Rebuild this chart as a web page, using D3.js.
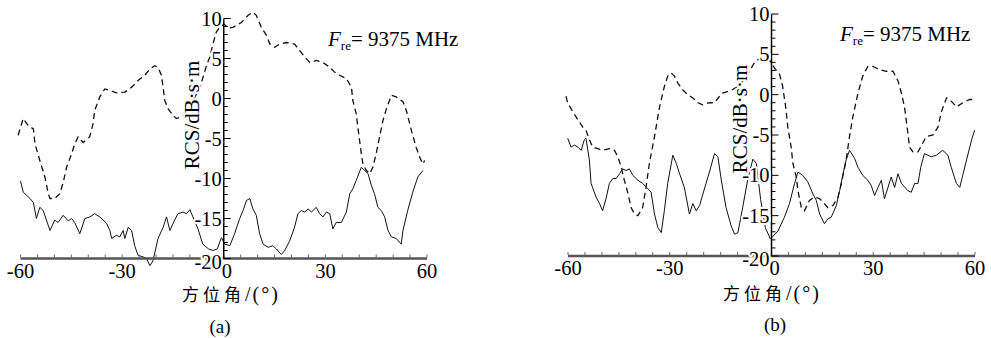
<!DOCTYPE html>
<html><head><meta charset="utf-8">
<script src="https://cdn.jsdelivr.net/npm/d3@7"></script>
<style>body{margin:0;background:#fff}svg{display:block}
.sf{font-family:"Liberation Serif","DejaVu Serif",serif}
.cj{font-family:"Noto Sans CJK SC","Noto Sans CJK JP",sans-serif}
</style>
</head><body><svg id="c" width="991" height="338"></svg>
<script>
// ---------------- data ----------------
const xTicks = [-60, -30, 0, 30, 60];
const yTicks = [10, 5, 0, -5, -10, -15, -20];
const xMinor = d3.range(-60, 61, 5);
const yMinor = d3.range(-20, 11, 1);
const xTitle = "方位角";
const xUnit = "/(°)";
const yTitle = "RCS/dB·s·m";
const freqText = "= 9375 MHz";
const panelLabels = ["(a)", "(b)"];

// panel (a): [azimuth deg, RCS dBsm]
const aSolid = [[-60,-10.3],[-59.2,-11.7],[-57.2,-12.5],[-56.2,-13],[-55.3,-15],[-54.3,-13.6],[-53.3,-14],[-51.3,-16.5],[-49.9,-15.2],[-48.9,-15.5],[-47.4,-14.6],[-45.9,-15.3],[-44.9,-15],[-44,-15.5],[-42.5,-16.9],[-41,-15],[-39.5,-14.8],[-38.1,-14.4],[-36.6,-14.8],[-34.6,-15.6],[-33.6,-16.5],[-33.1,-17.5],[-31.7,-17.1],[-30.7,-17.3],[-29.7,-16.5],[-29.2,-17.5],[-28.2,-16.1],[-27.2,-16.5],[-26.3,-18.4],[-25.3,-19.6],[-23.8,-19.8],[-22.8,-20],[-21.8,-20.9],[-20.9,-20.3],[-19.4,-17.5],[-17.9,-16.1],[-16.9,-14.8],[-15.9,-16.5],[-14.5,-15.2],[-13.5,-14.4],[-12,-14.2],[-11,-14.4],[-10,-13.9],[-9.1,-14.8],[-7.6,-16.3],[-6.2,-18.2],[-4.5,-18.8],[-3.2,-19],[-1.9,-18.8],[-0.7,-17.4],[0.3,-18.2],[1.8,-18.4],[3.2,-16.9],[4.7,-15],[5.7,-14],[6.7,-12.75],[7.7,-12.5],[8.6,-13.8],[9.6,-14.6],[10.6,-16.9],[11.6,-18.2],[13.1,-18.6],[14.5,-18.4],[15.5,-18.8],[17,-19.5],[18,-19],[19.5,-17.75],[20.9,-16.1],[21.9,-14.4],[22.9,-14],[23.9,-14.2],[24.9,-13.8],[25.9,-14.2],[27.3,-13.6],[28.3,-14.4],[29.3,-14.8],[30.3,-14.2],[31.3,-14.4],[32.2,-16.3],[33.2,-15.5],[34.7,-15.5],[36.2,-14.2],[37.2,-11.9],[38.1,-11.3],[39.1,-10.25],[40.6,-8.6],[41.6,-9],[42.6,-9.4],[43.6,-10.9],[44.5,-11.9],[45.5,-13.6],[46.5,-14],[47.5,-14.8],[48.5,-16.5],[49.5,-17.3],[50.9,-17.5],[52.4,-18.2],[52.9,-16.5],[54.3,-14],[55.8,-11.7],[57.3,-9.8],[58.8,-9]];
const aDashed = [[-60.7,-4.6],[-59.2,-2.5],[-57.7,-3.4],[-56.2,-3.8],[-55.7,-5.7],[-54.3,-7.75],[-52.8,-9.8],[-51.8,-11.9],[-51.3,-12.5],[-49.9,-12.5],[-48.4,-11.9],[-47.4,-10.5],[-46.4,-8.6],[-44.9,-6.9],[-44,-5.7],[-43,-4.8],[-41.5,-5.5],[-39.6,-4.8],[-38.6,-3.2],[-38.1,-1.5],[-36.6,0.2],[-35.1,1.2],[-33.6,1],[-31.7,0.7],[-29.2,0.8],[-27.2,1.4],[-25.3,2.25],[-23.3,2.9],[-21.8,3.7],[-20.4,4.1],[-19.4,3.9],[-18.4,2.9],[-17.9,1.4],[-17.4,-0.25],[-16.4,-1.3],[-15,-2.1],[-14,-2.5],[-12,-2.2],[-10,-1],[-8,0.6],[-7.1,1.2],[-6.1,2.7],[-5.1,4.1],[-4.1,5.2],[-3.2,6.8],[-2.2,8.3],[-1.2,8.9],[0,9.3],[1.5,8.8],[2.7,8.9],[5.2,9.5],[7.2,10.4],[8.6,10.8],[9.6,10.4],[11.1,8.9],[12.6,7.9],[13.6,6.8],[15,6.4],[16.5,6.8],[18.5,7],[20.9,6.8],[22.4,6],[23.9,5.2],[25.4,4.5],[27.3,4.75],[29.3,4.5],[31.3,3.9],[32.7,3.3],[34.2,2.9],[36.2,2.5],[37.7,1.4],[38.1,-0.25],[39.1,-1.9],[39.6,-3.6],[40.1,-5.25],[40.6,-6.9],[41.1,-8.2],[42.1,-9],[43.1,-9.4],[44,-8.6],[45,-6.9],[46,-4.8],[47,-2.75],[48,-1.3],[49.5,0.4],[50.9,0.2],[52.9,-0.4],[53.9,-1.5],[55.4,-4],[56.8,-6.1],[57.8,-7.3],[58.8,-8.2],[59.3,-7.75]];

// panel (b)
const bSolid = [[-60.1,-5.4],[-59.1,-6.5],[-58.1,-6.25],[-57.1,-6.5],[-56.1,-6.9],[-55.2,-5.6],[-54.7,-5.4],[-53.7,-8.1],[-53.2,-11],[-51.7,-12.7],[-50.7,-13.5],[-49.8,-14.4],[-48.8,-12.9],[-47.8,-11],[-46.8,-10.4],[-45.8,-10.4],[-44.8,-9.8],[-43.9,-9.2],[-42.9,-9.4],[-41.9,-9.2],[-40.9,-10],[-39.4,-10.6],[-38,-11],[-36.8,-11.5],[-35.5,-12.1],[-34.5,-14.8],[-33.5,-16.5],[-32.5,-17.1],[-31.6,-14.4],[-30.6,-11],[-29.1,-7.5],[-28.1,-8.5],[-27.1,-9.8],[-25.7,-11.5],[-24.2,-14.8],[-23.2,-13.5],[-22.2,-14.4],[-21.2,-13.75],[-19.8,-11.7],[-18.3,-9.6],[-16.8,-7.3],[-15.8,-7.7],[-14.8,-10.6],[-13.4,-14],[-11.9,-16.25],[-10.9,-17.3],[-9.9,-17.1],[-8.5,-14],[-7,-10.5],[-5.5,-8],[-4.5,-8.5],[-3.2,-13],[-1.8,-16.5],[-0.3,-17.9],[1.9,-16.9],[3.8,-15.2],[5.3,-13.5],[6.8,-11],[7.8,-9.6],[9.2,-10],[10.7,-10.8],[12.2,-12.3],[13.2,-13.1],[14.2,-14.8],[15.6,-16],[16.6,-15.4],[17.6,-15.2],[19.1,-13.75],[20.1,-11.9],[21,-10],[22,-8.1],[23,-6.9],[24.5,-7.9],[25.5,-9],[26.9,-10],[28.4,-10.6],[29.4,-11.25],[30.4,-12.5],[31.4,-11.5],[32.4,-10.6],[33.3,-12.9],[35.3,-10.2],[36.3,-11.5],[37.3,-9.8],[38.3,-11],[40.2,-11.9],[41.2,-12.1],[42.2,-11],[43.2,-11],[44,-9],[45.1,-7.3],[47.1,-7.7],[48.6,-7.5],[50.5,-6.9],[52,-7.5],[53,-9],[54.5,-11],[55.5,-11.5],[56.5,-9.8],[57.5,-8.1],[59,-5.6],[59.9,-4.4]];
const bDashed = [[-60.6,-0.2],[-60.1,-1],[-58.6,-2.1],[-57.1,-3.1],[-55.7,-4],[-54.7,-4.4],[-53.7,-5.6],[-52.7,-6.5],[-51.2,-6.7],[-49.8,-6.9],[-47.8,-6.7],[-46.3,-6.9],[-45.3,-7.7],[-44.3,-9],[-43.4,-10.6],[-42.4,-12.1],[-41.4,-14],[-40.4,-14.8],[-39.4,-15],[-38,-14],[-37,-11.5],[-36,-8.5],[-34.5,-5.2],[-33,-1.5],[-31.6,1],[-30.6,2.3],[-29.6,2.7],[-28.6,2.3],[-27.7,1.5],[-26.2,0.6],[-24.7,0],[-23.2,-0.4],[-21.7,-1],[-20.3,-1.25],[-18.3,-1],[-16.8,-1],[-15.3,-0.2],[-14.4,0.2],[-12,0.5],[-10,1],[-8,1.9],[-6.5,2.9],[-5,4],[-3.5,4.5],[-2,4.6],[-0.5,4.2],[0.9,3.3],[2.4,2.5],[3.3,1],[4.3,-1.9],[4.8,-4],[5.8,-6.5],[6.3,-8.5],[7.3,-10.2],[7.8,-11.9],[8.8,-14],[9.7,-14.4],[11.2,-13.1],[12.7,-12.7],[14.2,-12.9],[15.6,-13.5],[16.6,-14],[18.1,-13.75],[19.6,-12.7],[20.6,-11],[22,-8.1],[23,-5.2],[24,-2.7],[25.5,0.2],[26.9,2.3],[28.4,3.5],[29.9,3.5],[31.9,3.1],[33.8,2.9],[35.8,2.9],[37.3,1.7],[38.3,0.2],[39.2,-1.5],[39.7,-3.1],[40.2,-4.75],[40.7,-6.5],[41.7,-7.1],[43.2,-7.1],[44.6,-6],[45.6,-5.2],[47.6,-5],[49.1,-4],[50.1,-2.1],[51.6,-0.4],[53,-0.8],[54.5,-1.5],[56.5,-1],[58.4,-0.6],[59.4,-0.6]];

// ---------------- layout ----------------
const panels = [
  {solid: aSolid, dashed: aDashed, label: panelLabels[0], xr: [20.5, 427], yr: [258.5, 18.5],
   yTitleX: 199, yTitleY: 115, freqX: 328, freqY: 46, xTitleX: 182, xTitleY: 301, labX: 220, labY: 333},
  {solid: bSolid, dashed: bDashed, label: panelLabels[1], xr: [568, 975], yr: [256, 14],
   yTitleX: 747, yTitleY: 119, freqX: 840, freqY: 41, xTitleX: 723, xTitleY: 300, labX: 775, labY: 331}
];

const svg = d3.select("#c");

function halo(sel, w) {
  return sel.attr("stroke", "#fff").attr("stroke-width", w).attr("paint-order", "stroke").attr("stroke-linejoin", "round");
}

panels.forEach(p => {
  const x = d3.scaleLinear().domain([-60, 60]).range(p.xr);
  const y = d3.scaleLinear().domain([-20, 10]).range(p.yr);
  const g = svg.append("g");
  const line = d3.line().x(d => x(d[0])).y(d => y(d[1])).curve(d3.curveLinear);

  g.append("path").datum(p.solid).attr("d", line)
    .attr("fill", "none").attr("stroke", "#111").attr("stroke-width", 1);
  g.append("path").datum(p.dashed).attr("d", line)
    .attr("fill", "none").attr("stroke", "#111").attr("stroke-width", 1.3)
    .attr("stroke-dasharray", "6,4");

  // x axis: thick grey baseline with small ticks above
  const y0 = y(-20);
  g.append("line").attr("x1", x(-60)).attr("x2", x(60)).attr("y1", y0).attr("y2", y0)
    .attr("stroke", "#555").attr("stroke-width", 2.5);
  g.selectAll(".xm").data(xMinor).join("line")
    .attr("x1", d => x(d)).attr("x2", d => x(d)).attr("y1", y0 - 1).attr("y2", y0 - 4)
    .attr("stroke", "#666").attr("stroke-width", 1);
  halo(g.selectAll(".xl").data(xTicks).join("text").attr("class", "sf")
    .attr("x", d => x(d) + (d === 0 ? 3 : 0)).attr("y", y0 + 19)
    .attr("text-anchor", "middle").attr("font-size", 20.5)
    .attr("fill", "#000").text(d => d), 3);

  // y axis at x=0
  const x0 = x(0);
  g.append("line").attr("x1", x0).attr("x2", x0).attr("y1", y(10)).attr("y2", y(-20))
    .attr("stroke", "#000").attr("stroke-width", 1.5);
  g.selectAll(".ym").data(yMinor).join("line")
    .attr("x1", x0).attr("x2", d => x0 + (d % 5 === 0 ? 7 : 4))
    .attr("y1", d => y(d)).attr("y2", d => y(d))
    .attr("stroke", "#000").attr("stroke-width", 1);
  halo(g.selectAll(".yl").data(yTicks).join("text").attr("class", "sf")
    .attr("x", x0 - 2).attr("y", d => y(d) + (d === -20 ? 10 : 7))
    .attr("text-anchor", "end").attr("font-size", 20.5)
    .attr("fill", "#000").text(d => d), 4);

  // y title
  halo(g.append("text").attr("class", "sf").attr("transform", `translate(${p.yTitleX},${p.yTitleY}) rotate(-90)`)
    .attr("text-anchor", "middle").attr("font-size", 21)
    .attr("fill", "#000").text(yTitle), 4);

  // frequency annotation
  const ft = g.append("text").attr("class", "sf").attr("x", p.freqX).attr("y", p.freqY)
    .attr("font-size", 21).attr("fill", "#000");
  ft.append("tspan").attr("font-style", "italic").text("F");
  ft.append("tspan").attr("font-size", 13).attr("dy", 4).text("re");
  ft.append("tspan").attr("dy", -4).text(freqText);

  // x title
  const xt = g.append("text").attr("x", p.xTitleX).attr("y", p.xTitleY).attr("fill", "#000");
  xt.append("tspan").attr("class", "cj").attr("font-size", 17).attr("letter-spacing", 4).text(xTitle);
  xt.append("tspan").attr("class", "sf").attr("font-size", 20).attr("letter-spacing", 2).text(xUnit);

  g.append("text").attr("class", "sf").attr("x", p.labX).attr("y", p.labY).attr("text-anchor", "middle")
    .attr("font-size", 19).attr("fill", "#000").text(p.label);
});
</script>
</body></html>
